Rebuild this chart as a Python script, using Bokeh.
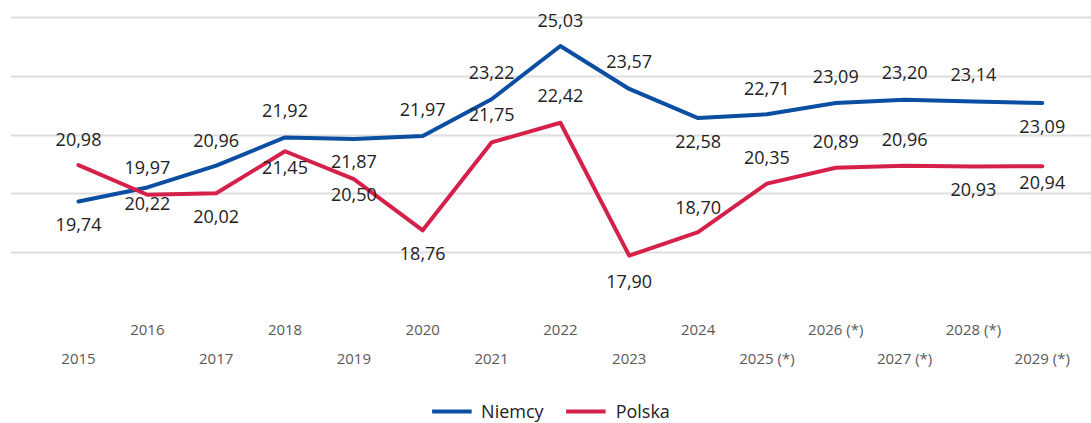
from bokeh.plotting import figure
from bokeh.layouts import column
from bokeh.models import (Range1d, LinearAxis, FixedTicker, Grid, Legend, LegendItem,
                          ColumnDataSource)
from bokeh.core.properties import value
from bokeh.embed import file_html
from bokeh.resources import INLINE

# ---- data ----
years = ["2015", "2016", "2017", "2018", "2019", "2020", "2021", "2022", "2023", "2024",
         "2025 (*)", "2026 (*)", "2027 (*)", "2028 (*)", "2029 (*)"]
niemcy = [19.74, 20.22, 20.96, 21.92, 21.87, 21.97, 23.22, 25.03, 23.57, 22.58,
          22.71, 23.09, 23.20, 23.14, 23.09]
polska = [20.98, 19.97, 20.02, 21.45, 20.50, 18.76, 21.75, 22.42, 17.90, 18.70,
          20.35, 20.89, 20.96, 20.93, 20.94]
series_names = ["Niemcy", "Polska"]

# ---- style: label vertical offsets (px, + = down) ----
niemcy_dy = [23, 16, -25, -27, 23, -26, -27, -26, -27, 23, -26, -27, -27, -27, 23]
polska_dy = [-26, -27, 23, 16, 15, 23, -28, -27, 26, -25, -26, -26, -26, 23, 16]

BLUE = "#0b4ea2"
RED = "#d5204a"
FONT = "Open Sans"

xs = list(range(len(years)))

p = figure(width=1091, height=380, output_backend="svg",
           toolbar_location=None, x_axis_location=None, y_axis_location=None,
           x_range=Range1d(-0.988, 14.715), y_range=Range1d(16, 26.306),
           min_border_left=10, min_border_right=0, min_border_top=8, min_border_bottom=69)
p.outline_line_color = None
for g in p.grid:
    g.visible = False

grid = Grid(dimension=1, ticker=FixedTicker(ticks=[16, 18, 20, 22, 24, 26]),
            grid_line_color="#dedede", grid_line_width=2)
p.add_layout(grid)

def fmt(v):
    return f"{v:.2f}".replace(".", ",")

p.line(xs, niemcy, line_color=BLUE, line_width=4, line_join="round", line_cap="round")
p.line(xs, polska, line_color=RED, line_width=4, line_join="round", line_cap="round")

for vals, dys in ((niemcy, niemcy_dy), (polska, polska_dy)):
    src = ColumnDataSource(dict(x=xs, y=vals, t=[fmt(v) for v in vals], dy=dys))
    p.text(x="x", y="y", text="t", y_offset="dy", source=src,
           text_align="center", text_baseline="middle",
           text_font=value(FONT), text_font_size="18px", text_color="#222222")

# staggered x axis labels
ax1 = LinearAxis(ticker=FixedTicker(ticks=xs[1::2]),
                 major_label_overrides={i: years[i] for i in xs[1::2]})
ax2 = LinearAxis(ticker=FixedTicker(ticks=xs[0::2]),
                 major_label_overrides={i: years[i] for i in xs[0::2]})
for ax, so in ((ax1, 7), (ax2, 6)):
    ax.axis_line_color = None
    ax.major_tick_line_color = None
    ax.minor_tick_line_color = None
    ax.major_tick_out = 0
    ax.major_tick_in = 0
    ax.major_label_standoff = so
    ax.major_label_text_font = FONT
    ax.major_label_text_font_size = "15px"
    ax.major_label_text_color = "#595959"
p.add_layout(ax1, "below")
p.add_layout(ax2, "below")

# legend strip below the chart (its line renderers use the same series, kept out of view)
lg = figure(width=1091, height=43, output_backend="svg", toolbar_location=None,
            x_axis_location=None, y_axis_location=None,
            x_range=Range1d(100, 101), y_range=Range1d(100, 101),
            min_border_left=0, min_border_right=0, min_border_top=0, min_border_bottom=0)
lg.outline_line_color = None
for g in lg.grid:
    g.visible = False
r_n = lg.line(xs, niemcy, line_color=BLUE, line_width=4)
r_p = lg.line(xs, polska, line_color=RED, line_width=4)
legend = Legend(items=[LegendItem(label=series_names[0], renderers=[r_n]),
                       LegendItem(label=series_names[1], renderers=[r_p])],
                orientation="horizontal", location="bottom_center",
                border_line_alpha=0, background_fill_alpha=0,
                label_text_font=FONT, label_text_font_size="18px",
                label_text_color="#222222", glyph_width=40, glyph_height=20,
                label_height=20, spacing=22, padding=0, margin=0, label_standoff=10)
lg.add_layout(legend, "center")

layout = column(p, lg, spacing=0)
open("out.html", "w").write(file_html(layout, INLINE))
